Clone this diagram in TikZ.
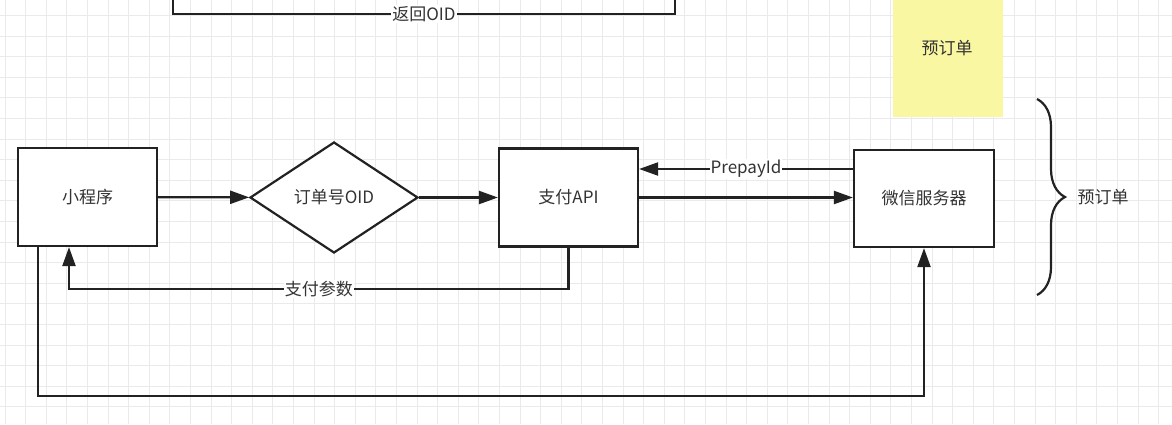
\documentclass[tikz,border=0pt]{standalone}
\usepackage{fontspec}
\setmainfont{Noto Sans CJK SC}
\usetikzlibrary{shapes.geometric,arrows.meta,decorations.pathreplacing}
\definecolor{ink}{RGB}{34,34,34}
\definecolor{txt}{RGB}{51,51,51}
\definecolor{gridc}{RGB}{234,234,238}
\definecolor{notey}{RGB}{250,247,162}
\tikzset{
  box/.style={draw=ink,line width=2.2pt,fill=white,text=txt,minimum width=139pt,minimum height=98pt,inner sep=0pt},
  sticky/.style={fill=notey,minimum width=110pt,minimum height=117pt,inner sep=0pt},
  lbl/.style={fill=white,text=txt,inner sep=1pt},
  wire/.style={draw=ink,line width=2.2pt},
  flow/.style={wire,-{Triangle[length=19pt,width=13pt]}}
}
\begin{document}
\begin{tikzpicture}[x=1pt,y=-1pt,font=\fontsize{17}{20}\selectfont]
  \useasboundingbox[fill=white] (0,0) rectangle (1172,424);
  % grid
  \foreach \x in {5,25.6,...,1172} \draw[gridc,line width=0.8pt] (\x,0) -- (\x,424);
  \foreach \y in {15.4,36,...,424} \draw[gridc,line width=0.8pt] (0,\y) -- (1172,\y);

  \node[box] (app) at (87.5,197) {小程序};
  \node[box,shape=diamond,minimum width=168pt,minimum height=111pt] (oid) at (334,197.5) {订单号OID};
  \node[box] (pay) at (568.5,197.5) {支付API};
  \node[box,minimum width=140pt,minimum height=97pt] (wx) at (924,198.5) {微信服务器};
  \node[sticky] (memo) at (948,58.5) {};
  \node[text=txt] (memotxt) at (947,48) {预订单};

  % brace on the right
  \draw[ink,line width=2.2pt,decorate,decoration={brace,amplitude=28pt}] (1037,99) -- (1037,295);
  \node[text=txt,anchor=west] (bracelbl) at (1074,197) {预订单};

  % edge at the top
  \coordinate (r1) at (173,-4);
  \coordinate (r2) at (675,-4);
  \draw[wire] (r1) |- node[lbl,pos=0.75] {返回OID} (r2 |- 0,14) -- (r2);

  \draw[flow] (app) -- (oid);
  \draw[flow] (oid) -- (pay);
  \draw[flow] ([yshift=29.5pt]wx.west) -- node[lbl] {PrepayId} ([yshift=29.5pt]wx.west -| pay.east);
  \draw[flow] (pay.east) -- (pay.east -| wx.west);

  \coordinate (c1) at (69,289);
  \draw[flow] (pay.south) |- node[lbl,pos=0.75] {支付参数} (c1) -- (c1 |- app.south);
  \coordinate (c2) at (38,396);
  \draw[flow] (c2 |- app.south) -- (c2) -| (wx.south);
\end{tikzpicture}
\end{document}
